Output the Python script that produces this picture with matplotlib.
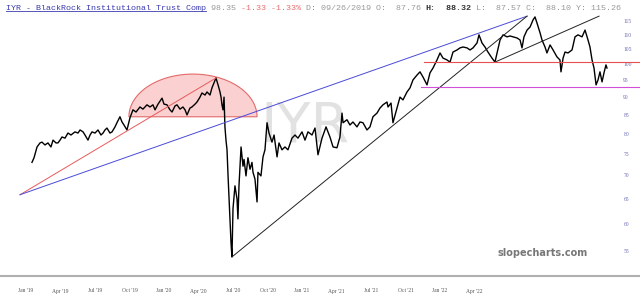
import numpy as np
import matplotlib.pyplot as plt
from matplotlib.ticker import NullLocator

# x = months since Jan 2019, y = price
px = [0.52, 0.70, 0.96, 1.22, 1.39, 1.65, 1.91, 2.17, 2.35, 2.61, 2.78, 2.96, 3.13, 3.39, 3.65, 3.91,
      4.26, 4.52, 4.70, 4.96, 5.13, 5.39, 5.57, 5.74, 6.00, 6.26, 6.52, 6.70, 6.87, 7.04, 7.30, 7.48,
      7.74, 7.91, 8.17, 8.35, 8.52, 8.78, 9.04, 9.30, 9.57, 9.91, 10.17, 10.52, 10.78, 11.04, 11.22,
      11.48, 11.83, 12.00, 12.26, 12.52, 12.70, 12.96, 13.13, 13.39, 13.65, 13.83, 14.00, 14.26, 14.43,
      14.70, 14.87, 15.13, 15.30, 15.57, 15.74, 16.00, 16.17, 16.35, 16.52, 16.70, 16.87, 16.96, 17.04,
      17.13, 17.22, 17.30, 17.39, 17.48, 17.57, 17.74, 17.83, 17.91, 18.00, 18.17, 18.35, 18.43, 18.52,
      18.70, 18.87, 18.96, 19.13, 19.30, 19.48, 19.65, 19.74, 19.91, 20.09, 20.17, 20.43, 20.61, 20.78,
      20.96, 21.13, 21.39, 21.57, 21.83, 22.00, 22.26, 22.52, 22.78, 23.13, 23.39, 23.65, 24.00, 24.26,
      24.52, 24.87, 25.13, 25.39, 25.74, 26.09, 26.43, 26.70, 27.04, 27.30, 27.48, 27.57, 27.91, 28.17,
      28.43, 28.78, 29.04, 29.30, 29.65, 29.91, 30.17, 30.52, 30.78, 31.04, 31.39, 31.48, 31.74, 31.91,
      32.26, 32.52, 32.78, 33.13, 33.39, 33.65, 34.00, 34.26, 34.52, 34.87, 35.13, 35.39, 35.74, 36.00,
      36.26, 36.61, 36.87, 37.13, 37.48, 37.74, 38.00, 38.35, 38.61, 38.87, 39.22, 39.39, 39.65, 39.91,
      40.17, 40.52, 40.78, 40.96, 41.22, 41.48, 41.83, 42.09, 42.35, 42.70, 42.96, 43.13, 43.30, 43.57,
      43.83, 44.09, 44.26, 44.43, 44.70, 44.87, 45.13, 45.30, 45.57, 45.83, 46.17, 46.43, 46.52, 46.70,
      46.87, 47.13, 47.48, 47.74, 48.00, 48.35, 48.61, 48.87, 49.04, 49.22, 49.39, 49.57, 49.74, 49.91,
      50.09, 50.26, 50.43, 50.52]
py = [73.0, 74.1, 76.7, 77.7, 77.9, 77.2, 77.7, 76.7, 78.4, 77.7, 77.7, 78.4, 79.2, 78.9, 80.2, 79.7,
      80.5, 80.2, 81.0, 80.5, 79.7, 78.4, 79.7, 80.5, 80.2, 81.0, 79.7, 80.2, 81.0, 81.5, 80.2, 80.5,
      81.8, 82.9, 84.5, 83.1, 82.3, 81.0, 84.2, 86.4, 85.8, 87.2, 86.6, 87.8, 87.2, 87.8, 86.4,
      88.0, 89.7, 88.0, 87.8, 86.4, 85.8, 87.5, 87.8, 86.6, 87.2, 86.4, 85.0, 86.9, 87.2,
      88.0, 88.6, 90.0, 91.2, 90.6, 91.5, 90.6, 92.7, 94.2, 95.7, 93.6, 91.5, 90.0, 87.8,
      86.4, 90.0, 81.8, 78.4, 76.0, 69.9, 60.9, 56.3, 53.9, 62.9, 67.7, 64.9, 60.9, 67.7,
      76.7, 72.1, 73.7, 69.9, 74.1, 71.4, 73.0, 70.7, 69.2, 64.3, 70.7, 69.9, 74.3, 76.0,
      82.9, 80.2, 77.9, 79.7, 74.3, 77.7, 76.0, 76.7, 76.0, 78.9, 79.7, 78.9, 80.5, 78.4,
      80.5, 79.7, 81.5, 74.8, 78.9, 81.8, 79.2, 76.7, 76.5, 79.2, 85.5, 82.9, 83.7, 82.3,
      83.1, 81.8, 83.1, 82.9, 81.0, 81.8, 84.5, 85.5, 86.9, 87.8, 88.6, 87.2, 88.3, 82.9,
      86.9, 90.0, 89.2, 91.5, 92.7, 95.1, 96.6, 97.6, 96.0, 93.6, 97.3, 98.8, 101.4, 103.7,
      102.0, 101.4, 100.7, 104.0, 104.7, 105.4, 105.7, 105.4, 104.7, 105.4, 107.1, 109.9, 107.1, 105.7,
      104.0, 102.0, 100.7, 103.7, 108.1, 109.9, 109.2, 109.5, 109.2, 108.8, 108.1, 105.4, 109.2, 111.6,
      112.7, 115.3, 116.4, 114.2, 110.6, 108.1, 105.7, 103.7, 106.4, 104.7, 102.4, 101.4, 97.6, 102.0,
      104.0, 103.7, 104.7, 109.2, 109.9, 109.2, 111.6, 108.1, 105.7, 101.4, 98.8, 93.6, 95.1, 97.6,
      94.5, 97.3, 99.8, 98.8]

# drawn trend lines: (x0, y0, x1, y1)
red_line = (-0.52, 65.8, 16.52, 95.7)
blue_line = (-0.52, 65.8, 43.57, 116.7)
black_line1 = (17.91, 53.9, 43.57, 116.7)
black_line2 = (40.78, 100.7, 49.83, 116.7)
red_level, red_start = 100.6, 34.6
magenta_level, magenta_start = 92.9, 34.35
# half ellipse: centre x, half width, base price, top price
arc_cx, arc_w, arc_base, arc_top = 14.52, 5.57, 84.5, 96.9

xtick_pos = [0, 3, 6, 9, 12, 15, 18, 21, 24, 27, 30, 33, 36, 39]
xtick_lab = ["Jan '19", "Apr '19", "Jul '19", "Oct '19", "Jan '20", "Apr '20", "Jul '20",
             "Oct '20", "Jan '21", "Apr '21", "Jul '21", "Oct '21", "Jan '22", "Apr '22"]
ytick_pos = [55, 60, 65, 70, 75, 80, 85, 90, 95, 100, 105, 110, 115]


def main():
    fig = plt.figure(figsize=(6.4, 2.99), dpi=100)
    ax = fig.add_axes([0, 23 / 299, 1, 276 / 299])
    ax.set_yscale("log")
    ax.set_xlim(-2.26, 53.39)
    ax.set_ylim(50.7, 122.9)

    # watermark
    ax.text(0.477, 0.54, "IYR", transform=ax.transAxes, fontsize=40, color="#e2e2e2",
            ha="center", va="center", zorder=0, family="DejaVu Sans")

    # rounded top shape
    t = np.linspace(0, np.pi, 100)
    ex = arc_cx + arc_w * np.cos(t)
    ey = np.exp(np.log(arc_base) + (np.log(arc_top) - np.log(arc_base)) * np.sin(t))
    ax.fill(ex, ey, facecolor="#fbd0d0", edgecolor="#e46a6a", lw=0.8, zorder=1)

    ax.plot(px, py, color="black", lw=1.0, zorder=3)

    for (x0, y0, x1, y1), c in [(red_line, "#e85a5a"), (blue_line, "#4a4ad8"),
                                (black_line1, "#222222"), (black_line2, "#222222")]:
        ax.plot([x0, x1], [y0, y1], color=c, lw=0.7, zorder=4)
    ax.plot([red_start, 53.39], [red_level, red_level], color="#e85050", lw=0.8, zorder=4)
    ax.plot([magenta_start, 53.39], [magenta_level, magenta_level], color="#d050d8", lw=0.8, zorder=4)

    ax.set_xticks(xtick_pos)
    ax.set_xticklabels(xtick_lab, fontsize=4, family="Liberation Serif", color="#555555")
    ax.tick_params(axis="x", length=0, pad=9)
    ax.set_yticks(ytick_pos)
    ax.set_yticklabels([str(v) for v in ytick_pos], fontsize=4, family="Liberation Serif",
                       color="#6a6ab0")
    ax.yaxis.set_minor_locator(NullLocator())
    ax.yaxis.tick_right()
    ax.tick_params(axis="y", length=0, pad=-12)

    for s in ["top", "left", "right"]:
        ax.spines[s].set_visible(False)
    ax.spines["bottom"].set_color("#b0b0b0")
    ax.spines["bottom"].set_linewidth(1.5)

    ax.text(0.918, 0.085, "slopecharts.com", transform=ax.transAxes, fontsize=7,
            fontweight="bold", color="#777777", ha="right", va="center", family="DejaVu Sans")

    # header line, monospace pieces placed by character count
    parts = [("IYR - BlackRock Institutional Trust Comp", "#3a3ab0", "normal"),
             (" 98.35 ", "#999999", "normal"),
             ("-1.33 -1.33%", "#e87070", "normal"),
             (" D: 09/26/2019 O:  87.76 ", "#999999", "normal"),
             ("H:", "#333333", "bold"),
             ("  88.32", "#333333", "bold"),
             (" L:  87.57 C:  88.10 Y: 115.26", "#999999", "normal")]
    fs = 6
    cw = 0.6 * fs
    n = 0
    for txt, col, w in parts:
        ax.annotate(txt, xy=(0, 1), xycoords="axes fraction", xytext=(4 + n * cw, -7),
                    textcoords="offset points", fontsize=fs, family="Liberation Mono",
                    color=col, fontweight=w, va="baseline", ha="left", zorder=6)
        n += len(txt)

    # underline below the name
    title_len = len(parts[0][0]) * cw
    line_y = 1 - 11.3 / 276
    ax.plot([4 / 460.8, (4 + title_len) / 460.8], [line_y, line_y], transform=ax.transAxes,
            color="#3a3ab0", lw=0.6, zorder=6)

    fig.savefig("out.png", dpi=100)


if __name__ == "__main__":
    main()
